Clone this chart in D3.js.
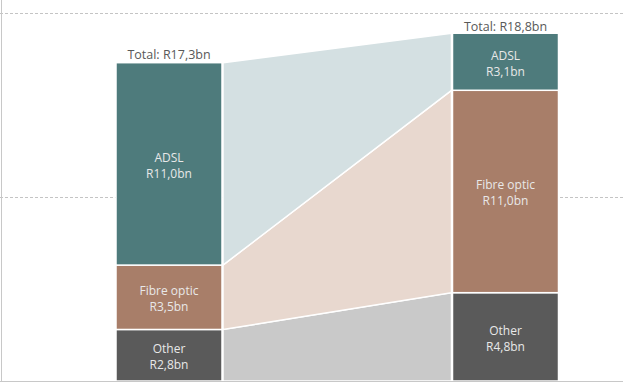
<!DOCTYPE html>
<html>
<head>
<meta charset="utf-8">
<script src="https://cdn.jsdelivr.net/npm/d3@7"></script>
<style>
  body { margin: 0; background: #fff; }
  text { font-family: "Open Sans", "Noto Sans", sans-serif; }
</style>
</head>
<body>
<script>
// data
const columns = ["Before", "After"]
const segments = ["Other", "Fibre optic", "ADSL"]
const values = {
  "Before": [2.8, 3.5, 11.0],
  "After":  [4.8, 11.0, 3.1]
}
const totals = [17.3, 18.8]
const valueLabels = {
  "Before": ["R2,8bn", "R3,5bn", "R11,0bn"],
  "After":  ["R4,8bn", "R11,0bn", "R3,1bn"]
}
const totalLabels = ["Total: R17,3bn", "Total: R18,8bn"]
const gridTicks = [10, 20]

const barColors  = ["#5a5a5a", "#a87e69", "#4e7b7c"]
const flowColors = ["#c9c9c9", "#e8d8cf", "#d4e0e2"]

const W = 623, H = 382

const svg = d3.select("body")
              .append("svg")
              .attr("width", W)
              .attr("height", H)

const xscale = d3.scaleBand()
               .domain(columns)
               .range([116, 558.5])
               .paddingInner(0.685)
               .paddingOuter(0)

const yscale = d3.scaleLinear()
               .domain([0, 20])
               .range([381, 13])

// stack each column
const stacked = columns.map(c => {
  let acc = 0
  return values[c].map((v, i) => {
    const s = { col: c, i: i, y0: acc, y1: acc + v, label: segments[i], vlabel: valueLabels[c][i] }
    acc += v
    return s
  })
})

// gridlines
svg.selectAll(".grid")
   .data(gridTicks)
   .enter()
   .append("line")
   .attr("x1", 0)
   .attr("x2", W)
   .attr("y1", d => Math.round(yscale(d)) + 0.5)
   .attr("y2", d => Math.round(yscale(d)) + 0.5)
   .attr("stroke", "#c4c4c4")
   .attr("stroke-dasharray", "3,2")

// flows between bars
const xl = xscale(columns[0]) + xscale.bandwidth() + 1
const xr = xscale(columns[1]) - 1
svg.selectAll(".flow")
   .data(segments.map((s, i) => [stacked[0][i], stacked[1][i]]))
   .enter()
   .append("path")
   .attr("d", d => "M" + xl + "," + yscale(d[0].y1) +
                   "L" + xr + "," + yscale(d[1].y1) +
                   "L" + xr + "," + yscale(d[1].y0) +
                   "L" + xl + "," + yscale(d[0].y0) + "Z")
   .attr("fill", (d, i) => flowColors[i])
   .attr("stroke", "#fff")
   .attr("stroke-width", 1.5)

// bars
const groups = svg.selectAll(".col")
   .data(stacked)
   .enter()
   .append("g")

groups.selectAll("rect")
      .data(d => d)
      .enter()
      .append("rect")
      .attr("x", d => xscale(d.col))
      .attr("y", d => yscale(d.y1))
      .attr("width", xscale.bandwidth())
      .attr("height", d => yscale(d.y0) - yscale(d.y1))
      .attr("fill", d => barColors[d.i])
      .attr("stroke", "#fff")
      .attr("stroke-width", 1.5)

const lab = groups.selectAll(".lab")
      .data(d => d)
      .enter()
      .append("text")
      .attr("text-anchor", "middle")
      .attr("font-size", "12px")
      .attr("fill", "#e8e8e8")
      .attr("transform", d => "translate(" + (xscale(d.col) + xscale.bandwidth() / 2) + "," + (yscale((d.y0 + d.y1) / 2)) + ")")
lab.append("tspan").attr("x", 0).attr("y", -2).text(d => d.label)
lab.append("tspan").attr("x", 0).attr("y", 14).text(d => d.vlabel)

// totals
svg.selectAll(".total")
   .data(columns)
   .enter()
   .append("text")
   .attr("x", d => xscale(d) + xscale.bandwidth() / 2)
   .attr("y", (d, i) => yscale(totals[i]) - 4)
   .attr("text-anchor", "middle")
   .attr("font-size", "12.5px")
   .attr("fill", "#595959")
   .text((d, i) => totalLabels[i])

// frame lines
svg.append("line")
   .attr("x1", 1.5).attr("x2", 1.5)
   .attr("y1", 0).attr("y2", H)
   .attr("stroke", "#c8c8c8")
svg.append("line")
   .attr("x1", 0).attr("x2", W)
   .attr("y1", 381.5).attr("y2", 381.5)
   .attr("stroke", "#c8c8c8")
</script>
</body>
</html>
